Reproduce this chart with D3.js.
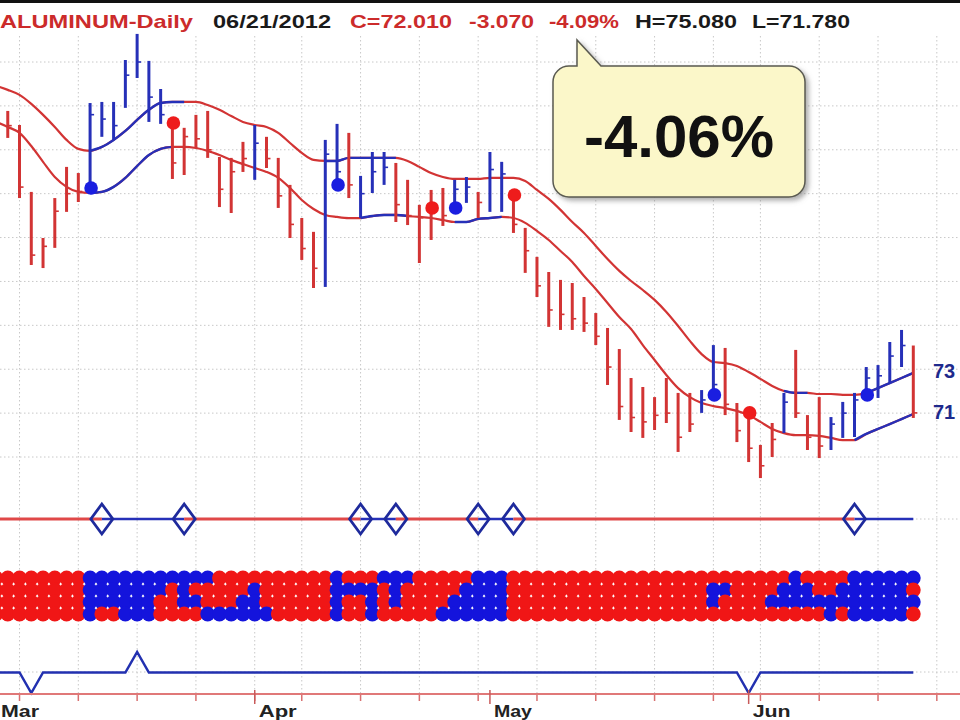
<!DOCTYPE html>
<html>
<head>
<meta charset="utf-8">
<script src="https://cdn.jsdelivr.net/npm/d3@7"></script>
<style>
  body { margin: 0; background: #fff; }
  svg { display: block; }
</style>
</head>
<body>
<div id="chart"></div>
<script>
// ---- data (index = trading day from 1 Mar 2012) ----
const highs = [
  86.30, 85.77, 85.13, 82.08, 79.98, 81.80, 83.22, 82.94, 86.13, 86.18,
  86.18, 88.09, 89.28, 88.05, 86.77, 85.13, 85.00, 85.59, 85.77, 83.67,
  83.63, 84.36, 85.13, 84.59, 83.63, 82.40, 80.89, 80.26, 84.45, 85.18,
  84.77, 82.81, 83.90, 83.90, 83.40, 82.63, 81.49, 82.17, 82.26, 82.63,
  82.76, 82.08, 83.90, 83.45, 82.03, 80.44, 79.12, 78.43, 78.07, 77.93,
  77.29, 76.56, 75.88, 74.92, 73.60, 73.19, 72.73, 73.60, 72.92, 72.92,
  73.05, 75.10, 74.97, 72.46, 72.14, 70.55, 71.55, 72.92, 74.88, 71.91,
  72.73, 71.82, 72.51, 72.92, 74.10, 74.19, 75.24, 75.79, 75.08
];
const lows = [
  84.90, 84.54, 81.80, 78.75, 78.61, 79.53, 81.17, 81.62, 82.08, 84.59,
  84.45, 85.91, 87.27, 85.27, 85.18, 82.67, 82.85, 84.08, 83.63, 81.39,
  81.12, 82.99, 82.63, 83.17, 81.35, 79.98, 78.98, 77.70, 77.75, 82.53,
  81.80, 80.89, 82.03, 82.40, 80.71, 80.57, 78.84, 79.89, 80.53, 81.12,
  81.58, 80.89, 81.17, 81.17, 80.21, 78.39, 77.29, 75.93, 75.79, 75.79,
  75.70, 75.10, 73.28, 71.69, 71.14, 70.87, 71.23, 71.55, 70.23, 71.14,
  72.01, 72.83, 71.91, 70.68, 69.77, 69.04, 70.00, 71.09, 71.78, 70.32,
  69.95, 70.32, 70.87, 70.91, 72.60, 72.69, 73.37, 74.10, 71.78
];
const closes = [
  85.20, 85.10, 82.30, 79.20, 79.60, 81.20, 82.00, 82.10, 85.60, 85.40,
  85.10, 87.40, 88.00, 86.40, 85.60, 83.40, 84.60, 84.50, 84.00, 82.20,
  83.00, 83.60, 84.30, 83.60, 81.90, 80.60, 79.50, 78.60, 83.80, 83.00,
  82.40, 82.00, 83.00, 83.20, 81.50, 81.00, 80.90, 81.30, 81.00, 82.20,
  82.30, 81.60, 83.10, 82.90, 80.60, 79.40, 77.80, 76.70, 76.50, 76.30,
  76.10, 75.50, 74.10, 72.30, 71.80, 71.60, 71.90, 72.00, 70.90, 71.50,
  72.60, 73.30, 72.40, 71.20, 70.40, 69.60, 70.80, 72.50, 72.00, 70.90,
  70.50, 71.50, 72.00, 72.60, 73.60, 73.70, 74.60, 75.08, 72.01
];
// bars drawn in blue (all others red)
const blueBars = [8, 9, 10, 11, 12, 13, 14, 22, 28, 29, 31, 32, 33, 39, 40, 42, 43,
  60, 61, 67, 71, 72, 73, 74, 75, 76, 77];

const upperBand = [
  86.91, 86.73, 86.50, 86.09, 85.59, 85.04, 84.45, 84.04, 83.95, 84.13,
  84.45, 84.86, 85.36, 85.82, 86.13, 86.18, 86.18, 86.18, 86.04, 85.82,
  85.54, 85.27, 85.13, 85.04, 84.77, 84.31, 83.86, 83.54, 83.49, 83.49,
  83.63, 83.63, 83.63, 83.63, 83.63, 83.49, 83.22, 82.94, 82.76, 82.67,
  82.67, 82.67, 82.72, 82.72, 82.72, 82.58, 82.17, 81.76, 81.26, 80.71,
  80.21, 79.62, 79.02, 78.48, 78.02, 77.61, 77.16, 76.61, 75.97, 75.29,
  74.69, 74.33, 74.28, 74.15, 73.87, 73.56, 73.24, 73.01, 72.92, 72.92,
  72.87, 72.87, 72.83, 72.83, 72.92, 73.14, 73.37, 73.60, 73.83
];
const lowerBand = [
  85.27, 85.04, 84.77, 84.17, 83.45, 82.76, 82.31, 82.08, 82.03, 82.08,
  82.31, 82.72, 83.26, 83.76, 84.04, 84.13, 84.13, 84.08, 83.95, 83.76,
  83.54, 83.35, 83.17, 82.99, 82.72, 82.26, 81.71, 81.30, 81.03, 80.94,
  80.89, 80.89, 80.98, 81.03, 81.03, 80.98, 80.94, 80.89, 80.80, 80.71,
  80.71, 80.85, 80.89, 80.94, 80.89, 80.67, 80.30, 79.89, 79.39, 78.89,
  78.25, 77.66, 77.02, 76.38, 75.83, 75.10, 74.42, 73.74, 73.14, 72.73,
  72.46, 72.32, 72.23, 72.10, 71.91, 71.60, 71.28, 71.09, 71.00, 71.00,
  70.96, 70.87, 70.77, 70.77, 71.05, 71.28, 71.50, 71.73, 71.96
];
// stretches of the bands drawn in blue: [from, to]
const upperBlueRuns = [[8, 16], [28, 34], [67, 69], [74, 78]];
const lowerBlueRuns = [[8, 15], [31, 35], [39, 43], [73, 78]];

// signal dots: [day, price]
const blueDots = [[8, 82.26], [29, 82.40], [39, 81.35], [61, 72.83], [74, 72.83]];
const redDots = [[15, 85.22], [37, 81.35], [44, 81.94], [64, 72.01]];

// trend line flips (diamonds); state starts red
const signalFlips = [9, 16, 31, 34, 41, 44, 73];

// dot band: one 4-letter column per day, top row first
const dotColumns = [
  "RRRR", "RRRR", "RRRR", "RRRR", "RRRR", "RRRR", "RRRR", "RRRR", "BBBB", "BBBR",
  "BBBR", "BBBB", "BBBB", "BBBB", "BBRR", "BRRR", "BBBR", "BRBR", "BRRB", "RRRB",
  "RRRB", "RRBB", "RBBB", "RRRB", "RRRR", "RRRR", "RRRR", "RRRR", "RRRR", "BBBB",
  "RBRR", "RBRR", "RBBB", "BRRR", "BBBR", "BRRR", "RRRR", "RRRR", "RRRB", "RRBB",
  "RBBB", "BBBB", "BBBB", "BBBB", "RRRR", "RRRR", "RRRR", "RRRR", "RRRR", "RRRR",
  "RRRR", "RRRR", "RRRR", "RRRR", "RRRR", "RRRR", "RRRR", "RRRR", "RRRR", "RRRR",
  "RRRR", "RBBR", "RBRR", "RRRR", "RRRR", "RRRR", "RRBR", "RBBR", "BBBR", "RBBR",
  "RRBR", "RRBB", "RBBR", "BBBB", "BBBB", "BBBB", "BBBB", "BBBB", "BRBR"
];

// bottom oscillator
const oscValues = [
  0, 0, 0, -1, 0, 0, 0, 0, 0, 0,
  0, 0, 1, 0, 0, 0, 0, 0, 0, 0,
  0, 0, 0, 0, 0, 0, 0, 0, 0, 0,
  0, 0, 0, 0, 0, 0, 0, 0, 0, 0,
  0, 0, 0, 0, 0, 0, 0, 0, 0, 0,
  0, 0, 0, 0, 0, 0, 0, 0, 0, 0,
  0, 0, 0, 0, -1, 0, 0, 0, 0, 0,
  0, 0, 0, 0, 0, 0, 0, 0, 0
];

const priceGrid = [70, 72, 74, 76, 78, 80, 82, 84, 86, 88];
const bandLabels = ["73", "71"];
const holidays = ["2012-04-06", "2012-05-28"];

const titleParts = [
  { text: "ALUMINUM-Daily", x: 0, len: 193, color: "#cc2b2b" },
  { text: "06/21/2012", x: 213, len: 118, color: "#1a1a1a" },
  { text: "C=72.010", x: 350, len: 102, color: "#cc2b2b" },
  { text: "-3.070", x: 469, len: 65, color: "#cc2b2b" },
  { text: "-4.09%", x: 549, len: 70, color: "#cc2b2b" },
  { text: "H=75.080", x: 635, len: 102, color: "#1a1a1a" },
  { text: "L=71.780", x: 752, len: 98, color: "#1a1a1a" }
];
const calloutText = "-4.06%";

// ---- colours ----
const RED = "#d23434", BLUE = "#2630b8";
const DOT_RED = "#f01616", DOT_BLUE = "#1414dc";

const width = 960, height = 720;
const svg = d3.select("#chart")
  .append("svg")
  .attr("width", width)
  .attr("height", height)
  .style("font-family", "'Liberation Sans', Arial, sans-serif");

// trading calendar
const fmt = d3.timeFormat("%Y-%m-%d");
const tradingDays = d3.timeDay.range(new Date(2012, 2, 1), new Date(2012, 5, 30))
  .filter(d => d.getDay() > 0 && d.getDay() < 6 && !holidays.includes(fmt(d)));

// scales
const x = d3.scaleLinear().domain([0, highs.length - 1]).range([-4, 913.3]);
const y = d3.scaleLinear().domain([70, 88]).range([457, 62]);
const oscY = d3.scaleLinear().domain([-1, 1]).range([693, 652]);

const weekStarts = tradingDays.map((d, i) => i)
  .filter(i => i > 0 && +d3.timeMonday.floor(tradingDays[i]) !== +d3.timeMonday.floor(tradingDays[i - 1]))
  .filter(i => x(i) >= 0 && x(i) <= width);
const monthStarts = tradingDays.map((d, i) => i)
  .filter(i => i === 0 || tradingDays[i].getMonth() !== tradingDays[i - 1].getMonth())
  .filter(i => x(i) < width);

// ---- grid ----
const grid = svg.append("g")
  .attr("stroke", "#c8c8c8")
  .attr("stroke-width", 1)
  .attr("stroke-dasharray", "1.5,2.5");

grid.selectAll("line.v")
  .data(weekStarts)
  .enter().append("line")
  .attr("x1", d => x(d)).attr("x2", d => x(d))
  .attr("y1", 36).attr("y2", 693);

grid.selectAll("line.h")
  .data(priceGrid)
  .enter().append("line")
  .attr("x1", 0).attr("x2", width)
  .attr("y1", d => y(d)).attr("y2", d => y(d));

grid.selectAll("line.p")
  .data([519, 672])
  .enter().append("line")
  .attr("x1", 0).attr("x2", width)
  .attr("y1", d => d).attr("y2", d => d);

// ---- bands ----
const bandLine = d3.line()
  .x(d => x(d[0]))
  .y(d => y(d[1]))
  .curve(d3.curveMonotoneX);

function drawBand(values, blueRuns) {
  const pts = values.map((v, i) => [i, v]);
  svg.append("path")
    .attr("d", bandLine(pts))
    .attr("fill", "none")
    .attr("stroke", RED)
    .attr("stroke-width", 2.2);
  blueRuns.forEach(([a, b]) => {
    svg.append("path")
      .attr("d", bandLine(pts.slice(a, b + 1)))
      .attr("fill", "none")
      .attr("stroke", BLUE)
      .attr("stroke-width", 2.4);
  });
}
drawBand(upperBand, upperBlueRuns);
drawBand(lowerBand, lowerBlueRuns);

// ---- price bars ----
const barColor = i => blueBars.includes(i) ? BLUE : RED;
const bars = svg.append("g");
bars.selectAll("line.bar")
  .data(highs)
  .enter().append("line")
  .attr("x1", (d, i) => x(i)).attr("x2", (d, i) => x(i))
  .attr("y1", d => y(d))
  .attr("y2", (d, i) => y(lows[i]))
  .attr("stroke", (d, i) => barColor(i))
  .attr("stroke-width", 3);

bars.selectAll("line.close")
  .data(closes)
  .enter().append("line")
  .attr("x1", (d, i) => x(i)).attr("x2", (d, i) => x(i) + 4)
  .attr("y1", d => y(d)).attr("y2", d => y(d))
  .attr("stroke", (d, i) => barColor(i))
  .attr("stroke-width", 1.6);

// ---- signal dots ----
svg.selectAll("circle.bdot")
  .data(blueDots)
  .enter().append("circle")
  .attr("cx", d => x(d[0]) + 1)
  .attr("cy", d => y(d[1]))
  .attr("r", 6.8)
  .attr("fill", "#1a1ee0");

svg.selectAll("circle.rdot")
  .data(redDots)
  .enter().append("circle")
  .attr("cx", d => x(d[0]) + 1)
  .attr("cy", d => y(d[1]))
  .attr("r", 6.8)
  .attr("fill", "#ee1c1c");

// band value labels at the right
svg.selectAll("text.band")
  .data(bandLabels)
  .enter().append("text")
  .attr("x", 933)
  .attr("y", (d, i) => i === 0 ? 378 : 419)
  .attr("fill", "#1e2a8c")
  .style("font-size", "20px")
  .style("font-weight", "bold")
  .text(d => d);

// ---- trend line with diamonds ----
const trendY = 519;
const stops = [0].concat(signalFlips, [highs.length - 1]);
for (let k = 0; k < stops.length - 1; k++) {
  const blue = k % 2 === 1;
  svg.append("line")
    .attr("x1", Math.max(0, x(stops[k]))).attr("x2", x(stops[k + 1]))
    .attr("y1", trendY).attr("y2", trendY)
    .attr("stroke", blue ? BLUE : "#e04848")
    .attr("stroke-width", blue ? 2.5 : 3);
}
svg.selectAll("path.diamond")
  .data(signalFlips)
  .enter().append("path")
  .attr("d", d => `M${x(d)},${trendY - 15}L${x(d) + 11},${trendY}L${x(d)},${trendY + 15}L${x(d) - 11},${trendY}Z`)
  .attr("fill", "none")
  .attr("stroke", "#1e2a9c")
  .attr("stroke-width", 2.8);

// ---- dot band ----
const rowY = [578, 590, 602, 614];
const cells = [];
dotColumns.forEach((col, i) => {
  col.split("").forEach((c, r) => cells.push({ i, r, c }));
});
svg.append("g").selectAll("circle")
  .data(cells)
  .enter().append("circle")
  .attr("cx", d => x(d.i))
  .attr("cy", d => rowY[d.r])
  .attr("r", 7.4)
  .attr("fill", d => d.c === "B" ? DOT_BLUE : DOT_RED);

// ---- oscillator ----
svg.append("path")
  .attr("d", d3.line().x((d, i) => x(i)).y(d => oscY(d))(oscValues))
  .attr("fill", "none")
  .attr("stroke", "#2230b0")
  .attr("stroke-width", 2.5);

// ---- date axis ----
svg.append("line")
  .attr("x1", 0).attr("x2", width)
  .attr("y1", 694).attr("y2", 694)
  .attr("stroke", "#e07878")
  .attr("stroke-width", 2);

svg.selectAll("line.wtick")
  .data(weekStarts)
  .enter().append("line")
  .attr("x1", d => x(d)).attr("x2", d => x(d))
  .attr("y1", 695).attr("y2", 701)
  .attr("stroke", "#d87070")
  .attr("stroke-width", 1.5);

svg.selectAll("line.mtick")
  .data(monthStarts)
  .enter().append("line")
  .attr("x1", d => x(d)).attr("x2", d => x(d))
  .attr("y1", 690).attr("y2", 704)
  .attr("stroke", "#c85a5a")
  .attr("stroke-width", 1.5);

const monthFmt = d3.timeFormat("%b");
svg.selectAll("text.month")
  .data(monthStarts)
  .enter().append("text")
  .attr("x", d => Math.max(1, x(d) + 4))
  .attr("y", 717)
  .attr("textLength", 38)
  .attr("lengthAdjust", "spacingAndGlyphs")
  .attr("fill", "#222")
  .style("font-size", "16px")
  .style("font-weight", "bold")
  .text(d => monthFmt(tradingDays[d]));

// ---- title ----
svg.selectAll("text.title")
  .data(titleParts)
  .enter().append("text")
  .attr("x", d => d.x)
  .attr("y", 28)
  .attr("textLength", d => d.len)
  .attr("lengthAdjust", "spacingAndGlyphs")
  .attr("fill", d => d.color)
  .style("font-size", "19px")
  .style("font-weight", "bold")
  .text(d => d.text);

// frame strip at top
svg.append("rect").attr("x", 0).attr("y", 0).attr("width", width).attr("height", 3).attr("fill", "#111");

// ---- callout ----
const defs = svg.append("defs");
const shadow = defs.append("filter").attr("id", "shadow")
  .attr("x", "-10%").attr("y", "-10%").attr("width", "130%").attr("height", "130%");
shadow.append("feDropShadow")
  .attr("dx", 3).attr("dy", 3).attr("stdDeviation", 2.5)
  .attr("flood-color", "#777").attr("flood-opacity", 0.6);

const cb = { x0: 553, y0: 66, x1: 805, y1: 197, r: 16, tx: 577, ty: 40, tw: 24 };
const p = d3.path();
p.moveTo(cb.x0 + cb.r, cb.y0);
p.lineTo(cb.tx, cb.y0);
p.lineTo(cb.tx, cb.ty);
p.lineTo(cb.tx + cb.tw, cb.y0);
p.lineTo(cb.x1 - cb.r, cb.y0);
p.arcTo(cb.x1, cb.y0, cb.x1, cb.y0 + cb.r, cb.r);
p.lineTo(cb.x1, cb.y1 - cb.r);
p.arcTo(cb.x1, cb.y1, cb.x1 - cb.r, cb.y1, cb.r);
p.lineTo(cb.x0 + cb.r, cb.y1);
p.arcTo(cb.x0, cb.y1, cb.x0, cb.y1 - cb.r, cb.r);
p.lineTo(cb.x0, cb.y0 + cb.r);
p.arcTo(cb.x0, cb.y0, cb.x0 + cb.r, cb.y0, cb.r);
p.closePath();

svg.append("path")
  .attr("d", p.toString())
  .attr("fill", "#fbf7c9")
  .attr("stroke", "#5a5a50")
  .attr("stroke-width", 1.5)
  .attr("filter", "url(#shadow)");

svg.append("text")
  .attr("x", 679)
  .attr("y", 157)
  .attr("text-anchor", "middle")
  .attr("fill", "#111")
  .style("font-size", "60px")
  .style("font-weight", "bold")
  .text(calloutText);
</script>
</body>
</html>
